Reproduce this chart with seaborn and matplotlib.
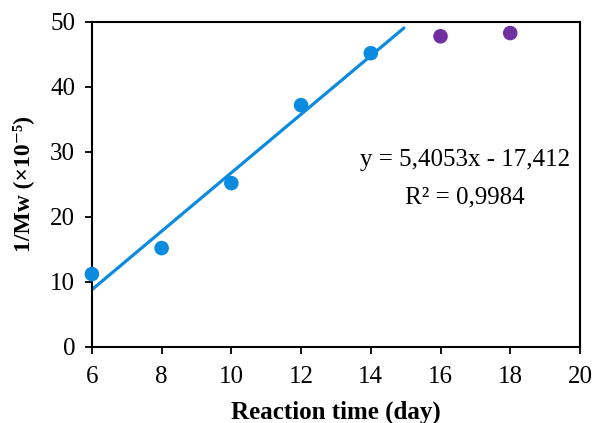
import numpy as np
import pandas as pd
import matplotlib
matplotlib.use("Agg")
import matplotlib.pyplot as plt
import seaborn as sns

# Data
fit_days = [6, 8, 10, 12, 14]
fit_values = [11.2, 15.2, 25.2, 37.2, 45.2]
plateau_days = [16, 18]
plateau_values = [47.8, 48.3]
x_ticks = [6, 8, 10, 12, 14, 16, 18, 20]
y_ticks = [0, 10, 20, 30, 40, 50]
fit_range = [6, 14.95]
equation_text = "y = 5,4053x - 17,412"
r2_text = "R² = 0,9984"

blue = "#0b8be0"
purple = "#7030a0"

sns.set_theme(style="ticks")
plt.rcParams['font.family'] = ['Liberation Serif', 'DejaVu Serif']
plt.rcParams['text.color'] = 'black'
plt.rcParams['axes.labelcolor'] = 'black'
plt.rcParams['xtick.color'] = 'black'
plt.rcParams['ytick.color'] = 'black'

fig = plt.figure(figsize=(5.93, 4.23), dpi=100)
ax = fig.add_axes([0.155, 0.180, 0.823, 0.768])

df = pd.DataFrame({
    "day": fit_days + plateau_days,
    "val": fit_values + plateau_values,
    "grp": ["fit"] * len(fit_days) + ["plateau"] * len(plateau_days),
})

# trend line from linear fit of blue points
slope, intercept = np.polyfit(fit_days, fit_values, 1)
lx = np.array(fit_range)
line_df = pd.DataFrame({"x": lx, "y": slope * lx + intercept})
sns.lineplot(data=line_df, x="x", y="y", ax=ax, color=blue, linewidth=2.3, zorder=2)

sns.scatterplot(data=df, x="day", y="val", hue="grp",
                palette={"fit": blue, "plateau": purple},
                s=110, edgecolor="none", ax=ax, legend=False, zorder=3, clip_on=False)

ax.set_xlim(6, 20)
ax.set_ylim(0, 50)
ax.set_xticks(x_ticks)
ax.set_yticks(y_ticks)
ax.tick_params(axis="both", direction="out", length=5, width=1.3, labelsize=18,
               color="black", labelcolor="black")
ax.tick_params(axis="x", pad=9)
ax.tick_params(axis="y", pad=7)
for s in ax.spines.values():
    s.set_linewidth(1.5)
    s.set_color("black")

ax.set_xlabel("Reaction time (day)", fontsize=18, fontweight="bold", labelpad=9)
ax.set_ylabel("1/Mw (×10⁻⁵)", fontsize=17, fontweight="bold", labelpad=12)

ax.text(465, 423 - 160, equation_text, transform=None, fontsize=18, ha="center", va="center")
ax.text(465, 423 - 197, r2_text, transform=None, fontsize=18, ha="center", va="center")

fig.savefig("out.png", dpi=100)
